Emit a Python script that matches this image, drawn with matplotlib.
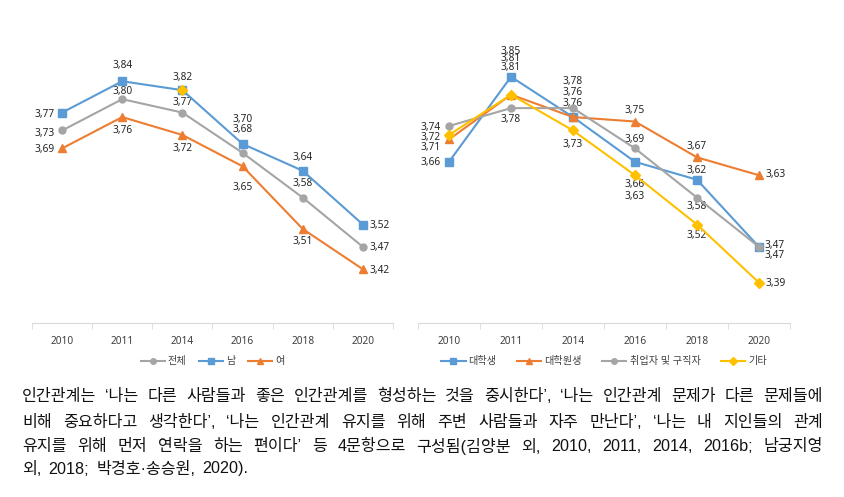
import matplotlib
matplotlib.use("Agg")
import matplotlib.pyplot as plt

plt.rcParams['font.family'] = ['Noto Sans', 'Noto Sans CJK KR']

years = ['2010', '2011', '2014', '2016', '2018', '2020']

# 왼쪽: 성별
total = [3.73, 3.80, 3.77, 3.68, 3.58, 3.47]
male = [3.77, 3.84, 3.82, 3.70, 3.64, 3.52]
female = [3.69, 3.76, 3.72, 3.65, 3.51, 3.42]
left_names = ['전체', '남', '여']

# 오른쪽: 신분
college = [3.66, 3.85, 3.76, 3.66, 3.62, 3.47]
grad = [3.71, 3.81, 3.76, 3.75, 3.67, 3.63]
worker = [3.74, 3.78, 3.78, 3.69, 3.58, 3.47]
other = [3.72, 3.81, 3.73, 3.63, 3.52, 3.39]
right_names = ['대학생', '대학원생', '취업자 및 구직자', '기타']

caption = [
    "인간관계는 ‘나는 다른 사람들과 좋은 인간관계를 형성하는 것을 중시한다’, ‘나는 인간관계 문제가 다른 문제들에",
    "비해 중요하다고 생각한다’, ‘나는 인간관계 유지를 위해 주변 사람들과 자주 만난다’, ‘나는 내 지인들의 관계",
    "유지를 위해 먼저 연락을 하는 편이다’ 등 4문항으로 구성됨(김양분 외, 2010, 2011, 2014, 2016b; 남궁지영",
    "외, 2018; 박경호·송승원, 2020).",
]

BLUE, ORANGE, GRAY, YELLOW = '#5B9BD5', '#ED7D31', '#A5A5A5', '#FFC000'

# label offsets in pixels (dx, dy up); dx<0 -> left of marker, dx>0 -> right
off_total = [(-7, -3), (0, 8), (0, 10), (0, 23), (0, 14.6), (7, -0.6)]
off_male = [(-7, -2.4), (0, 16), (0, 12.3), (0, 24), (0, 13.3), (7, -1)]
off_female = [(-7, -1), (0, -13.4), (0, -13.3), (0, -20.7), (0, -12.7), (7, -1)]
off_college = [(-8, -1), (0, 25.6), (0, 14), (0, -22.7), (0, 9.3), (6, 1.5)]
off_grad = [(-8, -8.3), (0, 36), (0, 24.3), (0, 10.7), (0, 11), (7, 0.6)]
off_worker = [(-8, -1), (0, -11), (0, 26.4), (0, 9), (0, -8.7), (6, -8.5)]
off_other = [(-8, -2.3), (0, 27.3), (0, -14), (0, -21.6), (0, -11.3), (7, -0.7)]

W, H = 845, 497
fig = plt.figure(figsize=(W / 100, H / 100), dpi=100)
FS = 7.3
px = 0.72  # pixel -> point


def setup(ax):
    ax.set_xlim(-0.5, len(years) - 0.5)
    ax.set_ylim(3.30, 3.95)
    for s in ['top', 'right', 'left']:
        ax.spines[s].set_visible(False)
    ax.spines['bottom'].set_color('#D9D9D9')
    ax.set_yticks([])
    ax.set_xticks(range(len(years)))
    ax.set_xticklabels(years, fontsize=FS, color='#404040')
    ax.tick_params(axis='x', which='major', length=0, pad=9)
    ax.set_xticks([i - 0.5 for i in range(len(years) + 1)], minor=True)
    ax.tick_params(axis='x', which='minor', length=4, color='#D9D9D9')
    ax.patch.set_alpha(0)


def series(ax, vals, color, marker, ms, name, offs):
    line, = ax.plot(range(len(vals)), vals, color=color, lw=1.5, marker=marker,
                    ms=ms, label=name, zorder=3)
    for i, v in enumerate(vals):
        dx, dy = offs[i]
        ha = 'right' if dx < 0 else ('left' if dx > 0 else 'center')
        ax.annotate(f"{v:.2f}".replace('.', ','), (i, v),
                    xytext=(dx * px, dy * px), textcoords='offset points',
                    ha=ha, va='center', fontsize=FS, color='#262626', zorder=2)
    return line


axl = fig.add_axes([32 / W, 1 - 323 / H, 361 / W, 291 / H])
setup(axl)
series(axl, total, GRAY, 'o', 5.0, left_names[0], off_total)
series(axl, male, BLUE, 's', 5.2, left_names[1], off_male)
series(axl, female, ORANGE, '^', 5.8, left_names[2], off_female)
axl.plot([2], [male[2]], marker='D', ms=5.2, color=YELLOW, ls='none', zorder=4)
axl.legend(loc='center', bbox_to_anchor=(0.5, -0.134), ncol=3, frameon=False,
           fontsize=FS, handlelength=2.4, columnspacing=1.2, handletextpad=0.3,
           labelcolor='#404040', markerscale=0.8)

axr = fig.add_axes([418 / W, 1 - 323 / H, 372 / W, 291 / H])
setup(axr)
series(axr, college, BLUE, 's', 5.2, right_names[0], off_college)
series(axr, grad, ORANGE, '^', 5.8, right_names[1], off_grad)
series(axr, worker, GRAY, 'o', 5.0, right_names[2], off_worker)
series(axr, other, YELLOW, 'D', 5.2, right_names[3], off_other)
axr.legend(loc='center', bbox_to_anchor=(0.5, -0.134), ncol=4, frameon=False,
           fontsize=FS, handlelength=2.4, columnspacing=2.0, handletextpad=0.3,
           labelcolor='#404040', markerscale=0.8)

# 본문 캡션 (양쪽 정렬)
renderer = fig.canvas.get_renderer()
cap_fs = 11.6
x0, x1 = 22, 823
line_y = [396, 422, 446.5, 469]
for k, text in enumerate(caption):
    words = text.split(' ')
    txts = [fig.text(0, 1 - line_y[k] / H, w, fontsize=cap_fs, va='center',
                     ha='left', family=['Liberation Sans', 'Noto Sans CJK KR'],
                     color='#111111')
            for w in words]
    widths = [t.get_window_extent(renderer).width for t in txts]
    if k < len(caption) - 1:
        gap = (x1 - x0 - sum(widths)) / (len(words) - 1)
    else:
        gap = cap_fs * 100 / 72 * 0.45
    x = x0
    for t, w in zip(txts, widths):
        t.set_x(x / W)
        x += w + gap

fig.savefig('out.png', dpi=100)
